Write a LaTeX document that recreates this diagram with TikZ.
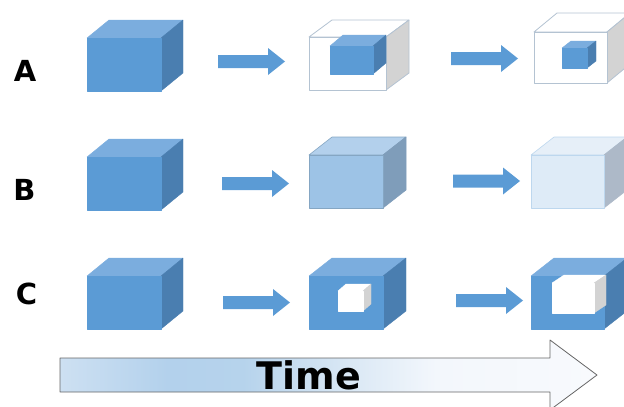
\documentclass[tikz,border=0pt]{standalone}
\usepackage{fontspec}
\setsansfont{DejaVu Sans}
\usepackage{tikz}
\usetikzlibrary{calc,positioning}

\definecolor{cubeblue}{HTML}{5B9BD5}
\definecolor{cubetop}{HTML}{7BADDE}
\definecolor{cubeside}{HTML}{4A7EB0}
\definecolor{glassline}{HTML}{B4C3D2}
\definecolor{glassside}{HTML}{D3D3D3}
\definecolor{midfront}{HTML}{9DC3E6}
\definecolor{midtop}{HTML}{B3D0EC}
\definecolor{midside}{HTML}{7F9DBA}
\definecolor{faintfront}{HTML}{DEEBF7}
\definecolor{fainttop}{HTML}{E6EFF8}
\definecolor{faintside}{HTML}{ADB9C8}
\definecolor{tfa}{HTML}{CDE0F2}
\definecolor{tfb}{HTML}{B3D1EC}
\definecolor{tfc}{HTML}{B6D3EC}
\definecolor{tfd}{HTML}{DAE8F5}
\definecolor{tfe}{HTML}{F3F7FC}
\definecolor{tff}{HTML}{F8FAFD}

\pgfdeclarehorizontalshading{timefade}{100bp}{color(0bp)=(tfa); color(25bp)=(tfa);
  color(35bp)=(tfb); color(42bp)=(tfc); color(52bp)=(tfd); color(60bp)=(tfe);
  color(75bp)=(tff); color(100bp)=(tff)}

% cube: [look] x1 y1 x2 y2 (front face), dx dy (depth)
\newcommand{\boxcube}[7][full]{%
  \filldraw[#1 top] (#2,#3) -- ({#2+#6},{#3+#7}) -- ({#4+#6},{#3+#7}) -- (#4,#3) -- cycle;
  \filldraw[#1 side] (#4,#3) -- ({#4+#6},{#3+#7}) -- ({#4+#6},{#5+#7}) -- (#4,#5) -- cycle;
  \filldraw[#1 front] (#2,#3) rectangle (#4,#5);
}
% block arrow: left end x, centre y
\newcommand{\steparrow}[2]{%
  \fill[cubeblue] (#1,{#2-6.5}) -- ({#1+50},{#2-6.5}) -- ({#1+50},{#2-13.5}) -- ({#1+67},#2)
    -- ({#1+50},{#2+13.5}) -- ({#1+50},{#2+6.5}) -- (#1,{#2+6.5}) -- cycle;
}

\tikzset{
  full front/.style={fill=cubeblue, draw=cubeblue, line width=0.4pt},
  full top/.style={fill=cubetop, draw=cubetop, line width=0.4pt},
  full side/.style={fill=cubeside, draw=cubeside, line width=0.4pt},
  glass front/.style={fill=white, draw=glassline, line width=0.8pt},
  glass top/.style={fill=white, draw=glassline, line width=0.8pt},
  glass side/.style={fill=glassside, draw=glassline, line width=0.8pt},
  mid front/.style={fill=midfront, draw=midfront!85!black, line width=0.6pt},
  mid top/.style={fill=midtop, draw=midfront!85!black, line width=0.6pt},
  mid side/.style={fill=midside, draw=midside, line width=0.6pt},
  faint front/.style={fill=faintfront, draw=faintfront!75!cubeblue, line width=0.6pt},
  faint top/.style={fill=fainttop, draw=faintfront!75!cubeblue, line width=0.6pt},
  faint side/.style={fill=faintside, draw=faintside, line width=0.6pt},
  hole front/.style={fill=white, draw=white, line width=0.4pt},
  hole top/.style={fill=white, draw=white, line width=0.4pt},
  hole side/.style={fill=glassside, draw=glassside, line width=0.4pt},
  rowlabel/.style={font=\fontsize{29}{29}\sffamily\bfseries, inner sep=0pt},
}

\begin{document}
\begin{tikzpicture}[x=1pt, y=-1pt, line join=round]
    \useasboundingbox (0,0) rectangle (624,407);
    \clip (0,0) rectangle (624,407);

    % Row labels
    \node[rowlabel] (labA) at (25,71) {A};
    \node[rowlabel] (labB) at (24.5,189.5) {B};
    \node[rowlabel] (labC) at (26.5,294) {C};

    % Row A: shrinking core
    \boxcube{87}{38}{161}{91}{22}{-18}
    \steparrow{218}{61.5}
    \boxcube[glass]{309}{37}{386}{90}{23}{-17}
    \boxcube{330}{46}{373}{74}{13}{-11}
    \steparrow{451}{58.5}
    \boxcube[glass]{534}{32}{607}{83}{23}{-19}
    \boxcube{562}{48}{587}{68}{9}{-7}

    % Row B: fading
    \boxcube{87}{157}{161}{210}{22}{-18}
    \steparrow{222}{183.5}
    \boxcube[mid]{309}{155}{383}{208}{23}{-18}
    \steparrow{453}{181}
    \boxcube[faint]{531}{155}{604}{208}{23}{-18}

    % Row C: growing hole
    \boxcube{87}{276}{161}{329}{22}{-18}
    \steparrow{223}{302.5}
    \boxcube{309}{276}{383}{329}{23}{-18}
    \boxcube[hole]{338}{291}{363}{311}{8}{-7}
    \steparrow{456}{300.5}
    \boxcube{531}{276}{604}{329}{23}{-18}
    \boxcube[hole]{552}{283}{594}{313}{12}{-8}

    % Time arrow
    \path[shading=timefade, draw=black!60, line width=0.8pt]
        (60,358) -- (550,358) -- (550,340) -- (597,375) -- (550,410) -- (550,392) -- (60,392) -- cycle;
    \node[font=\fontsize{38}{38}\sffamily\bfseries, inner sep=0pt] (timetext) at (309,375) {Time};
\end{tikzpicture}
\end{document}
